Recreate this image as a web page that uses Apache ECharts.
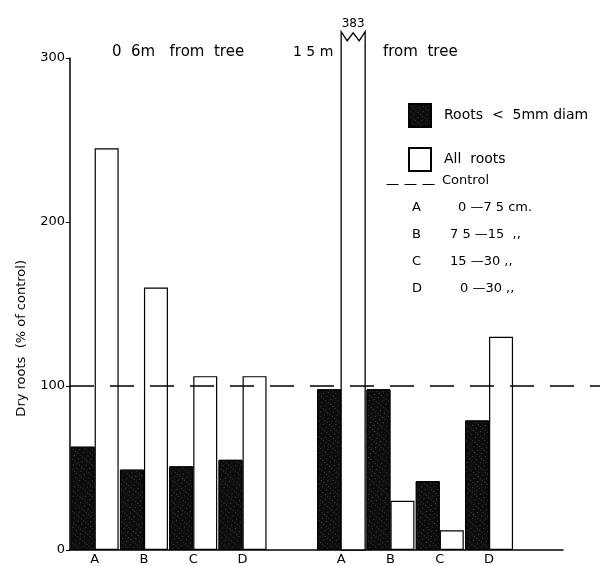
<!DOCTYPE html>
<html>
<head>
<meta charset="utf-8">
<script src="https://cdn.jsdelivr.net/npm/echarts@6/dist/echarts.min.js"></script>
<style>
  html, body { margin: 0; padding: 0; background: #fff; }
  #chart { width: 602px; height: 566px; }
</style>
</head>
<body>
<div id="chart"></div>
<script>
// two sampling distances, depth classes A-D, blank slot between and after
var categories = ["A", "B", "C", "D", "", "A", "B", "C", "D", ""];
var fineRoots = [63, 49, 51, 55, null, 98, 98, 42, 79, null]; // roots < 5mm diam
var allRoots = [245, 160, 106, 106, null, 383, 30, 12, 130, null];
var control = 100;
var yTicks = [0, 100, 200, 300];
var breakAt = 316; // bars above this are drawn broken

var FONT = "DejaVu Sans";
var BAR_W = 24;

var chart = echarts.init(document.getElementById("chart"));

// white specks on the black bars
var speckle = {
  symbol: "rect",
  symbolSize: 0.7,
  color: "rgba(255,255,255,0.6)",
  dashArrayX: [[1, 4], [1, 2]],
  dashArrayY: [1, 3],
  rotation: 0.7
};

function brokenBar(params, api) {
  var idx = api.value(0);
  var top = Math.min(api.value(1), breakAt);
  var base = api.coord([idx, 0]);
  var t = api.coord([idx, top])[1];
  var l = base[0];
  var r = l + BAR_W;
  return {
    type: "group",
    children: [
      {
        type: "polygon",
        shape: {
          points: [
            [l, base[1]], [l, t], [l + 6, t + 9], [l + 12, t + 1],
            [l + 18, t + 9], [r, t], [r, base[1]]
          ]
        },
        style: { fill: "#fff", stroke: "#000", lineWidth: 1.3 }
      },
      {
        type: "text",
        style: {
          text: String(api.value(1)),
          x: (l + r) / 2,
          y: t - 2,
          align: "center",
          verticalAlign: "bottom",
          fontFamily: FONT,
          fontSize: 12,
          fill: "#000"
        }
      }
    ]
  };
}

var rows = [
  ["A", "0 —7 5 cm.", 458],
  ["B", "7 5 —15  ,,", 450],
  ["C", "15 —30 ,,", 450],
  ["D", "0 —30 ,,", 460]
];
var legendText = [];
rows.forEach(function (row, i) {
  legendText.push({
    type: "text", left: 412, top: 201 + i * 27,
    style: { text: row[0], fontFamily: FONT, fontSize: 13, fill: "#000" }
  });
  legendText.push({
    type: "text", left: row[2], top: 201 + i * 27,
    style: { text: row[1], fontFamily: FONT, fontSize: 13, fill: "#000" }
  });
});

chart.setOption({
  backgroundColor: "#fff",
  animation: false,
  textStyle: { fontFamily: FONT, color: "#000" },
  grid: [
    { left: 70, right: 39, top: 58, bottom: 16 },
    { left: 70, right: 2, top: 58, bottom: 16 }
  ],
  legend: {
    orient: "vertical",
    left: 403,
    top: 98,
    itemWidth: 22,
    itemHeight: 23,
    itemGap: 19,
    icon: "rect",
    textStyle: { fontFamily: FONT, fontSize: 14, color: "#000", padding: [0, 0, 0, 8] },
    data: ["Roots  <  5mm diam", "All  roots"]
  },
  xAxis: [
    {
      type: "category",
      gridIndex: 0,
      data: categories,
      axisLine: { lineStyle: { color: "#000", width: 1.5 } },
      axisTick: { show: false },
      axisLabel: { color: "#000", fontSize: 13, margin: 3 }
    },
    { type: "value", gridIndex: 1, min: 0, max: 1, show: false }
  ],
  yAxis: [
    {
      type: "value",
      gridIndex: 0,
      min: yTicks[0],
      max: yTicks[yTicks.length - 1],
      interval: 100,
      splitLine: { show: false },
      axisLine: { show: true, lineStyle: { color: "#000", width: 1.5 } },
      axisTick: { show: true, length: 4, lineStyle: { color: "#000" } },
      axisLabel: { color: "#000", fontSize: 13, margin: 5 }
    },
    { type: "value", gridIndex: 1, min: 0, max: 300, show: false }
  ],
  series: [
    {
      name: "Roots  <  5mm diam",
      type: "bar",
      barWidth: BAR_W,
      barGap: "0%",
      data: fineRoots.map(function (v) { return v == null ? "-" : v; }),
      itemStyle: { color: "#0d0d0d", borderColor: "#000", borderWidth: 1, decal: speckle }
    },
    {
      name: "All  roots",
      type: "bar",
      barWidth: BAR_W,
      data: allRoots.map(function (v) { return v == null || v > breakAt ? "-" : v; }),
      itemStyle: { color: "#fff", borderColor: "#000", borderWidth: 1.2 }
    },
    {
      name: "All roots (broken)",
      type: "custom",
      clip: false,
      z: 3,
      renderItem: brokenBar,
      data: allRoots
        .map(function (v, i) { return [i, v]; })
        .filter(function (d) { return d[1] != null && d[1] > breakAt; })
    },
    {
      name: "Control",
      type: "line",
      xAxisIndex: 1,
      yAxisIndex: 1,
      z: 5,
      showSymbol: false,
      silent: true,
      lineStyle: { color: "#000", width: 1.5, type: [24, 16] },
      data: [[0, control], [1, control]]
    }
  ],
  graphic: [
    {
      type: "text", left: 15, top: 260,
      rotation: Math.PI / 2,
      style: { text: "Dry roots  (% of control)", fontFamily: FONT, fontSize: 13, fill: "#000" }
    },
    {
      type: "text", left: 112, top: 45,
      style: { text: "0  6m   from  tree", fontFamily: FONT, fontSize: 15, fill: "#000" }
    },
    {
      type: "text", left: 293, top: 45,
      style: { text: "1 5 m", fontFamily: FONT, fontSize: 14, fill: "#000" }
    },
    {
      type: "text", left: 383, top: 45,
      style: { text: "from  tree", fontFamily: FONT, fontSize: 15, fill: "#000" }
    },
    {
      type: "line", left: 384, top: 182,
      shape: { x1: 0, y1: 0, x2: 54, y2: 0 },
      style: { stroke: "#000", lineWidth: 1, lineDash: [12, 6] }
    },
    {
      type: "text", left: 442, top: 174,
      style: { text: "Control", fontFamily: FONT, fontSize: 13, fill: "#000" }
    }
  ].concat(legendText)
});
</script>
</body>
</html>
